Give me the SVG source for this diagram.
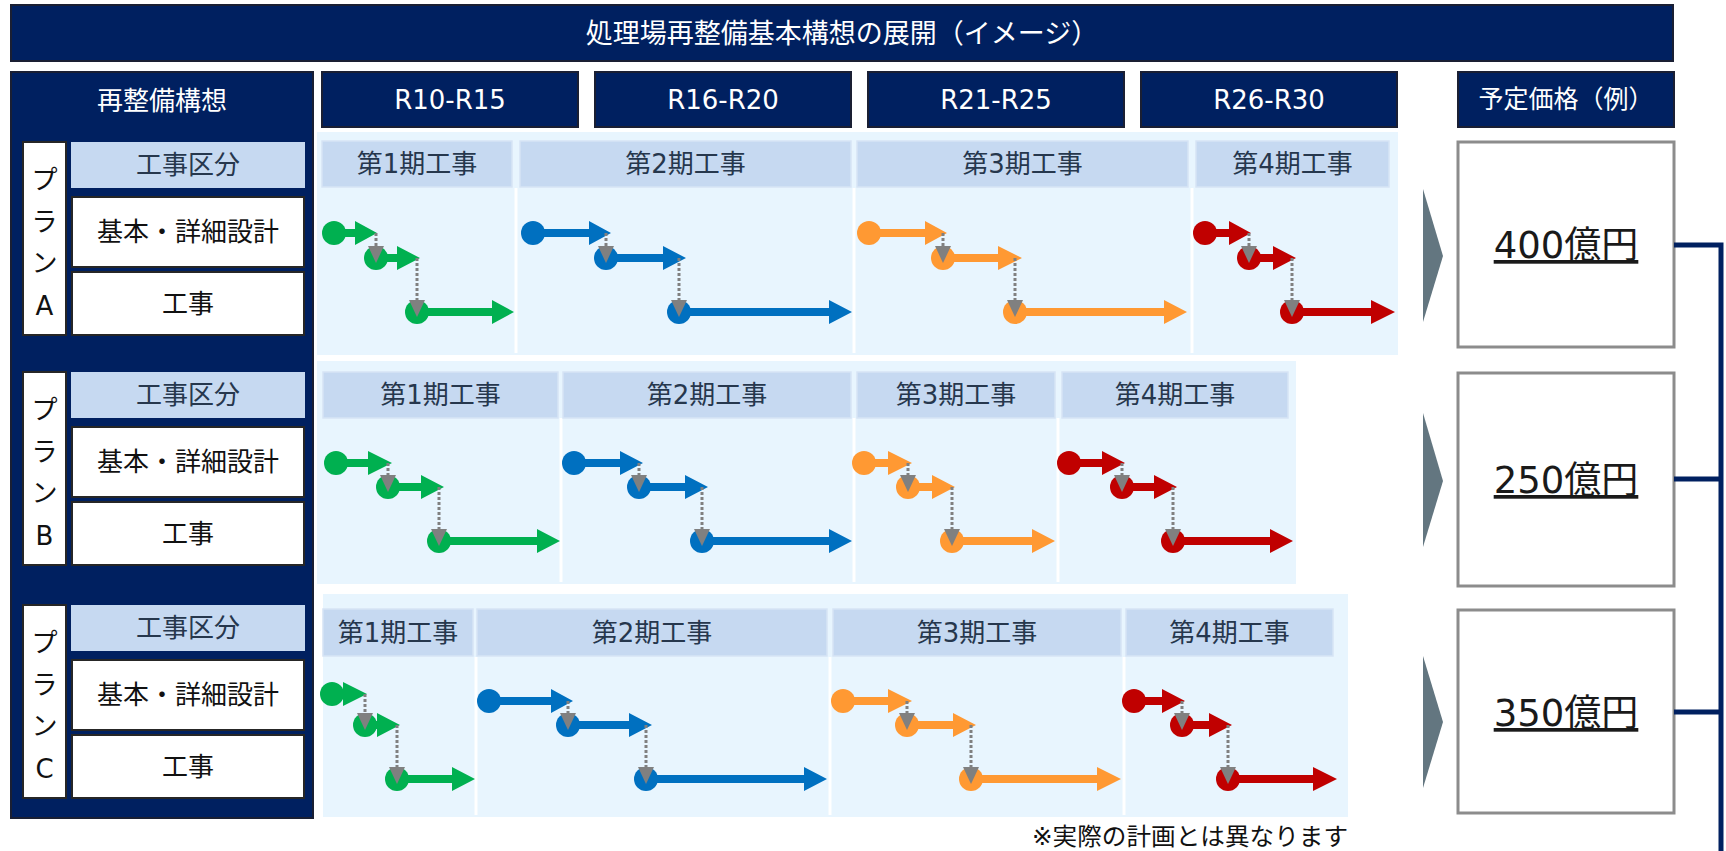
<svg xmlns="http://www.w3.org/2000/svg" width="1726" height="851" viewBox="0 0 1726 851">
<style>
.t{font-family:"DejaVu Sans","Noto Sans CJK JP",sans-serif}
.navy{fill:#002060;stroke:#1a1f33;stroke-width:2}
.wbox{fill:#fff;stroke:#262626;stroke-width:2}
.kbox{fill:#C6D9F1}
.lbl{fill:#C6D9F1;stroke:#D6E4F5;stroke-width:1.5}
.area{fill:#E8F5FE}
.div{stroke:#fff;stroke-width:3}
.price{fill:#fff;stroke:#8C8C8C;stroke-width:3}
.chev{fill:#637680}
.wt{fill:#fff;font-size:26px}
.dk{fill:#26374D;font-size:26px}
.bk{fill:#111;font-size:26px}
.g{fill:#00B050}.b{fill:#0070C0}.o{fill:#FF9933}.r{fill:#C00000}
.dot{stroke:#808080;stroke-width:3;stroke-dasharray:3 2;fill:none}
.tri{fill:#808080}
.br{stroke:#002060;stroke-width:5;fill:none}
.pt{font-size:37px;fill:#1a1a1a;text-decoration:underline}
</style>

<g id="title">
<rect class="navy" x="11" y="5" width="1662" height="56"/>
<text class="t wt" x="842" y="33" text-anchor="middle" dominant-baseline="central" style="font-size:27px">処理場再整備基本構想の展開（イメージ）</text>
</g>

<g id="left-panel">
<rect class="navy" x="11" y="72" width="302" height="746"/>
<text class="t wt" x="162" y="101" text-anchor="middle" dominant-baseline="central">再整備構想</text>
</g>

<g id="plan-a-label">
<rect class="wbox" x="23" y="142" width="43" height="193"/>
<text class="t bk" x="44.5" y="180" text-anchor="middle" dominant-baseline="central">プ</text>
<text class="t bk" x="44.5" y="222" text-anchor="middle" dominant-baseline="central">ラ</text>
<text class="t bk" x="44.5" y="263" text-anchor="middle" dominant-baseline="central">ン</text>
<text class="t bk" x="44.5" y="306" text-anchor="middle" dominant-baseline="central">A</text>
<rect class="kbox" x="71" y="142" width="234" height="46"/>
<text class="t dk" x="188" y="165" text-anchor="middle" dominant-baseline="central">工事区分</text>
<rect class="wbox" x="72" y="197" width="232" height="70"/>
<text class="t bk" x="188" y="232" text-anchor="middle" dominant-baseline="central">基本・詳細設計</text>
<rect class="wbox" x="72" y="272" width="232" height="63"/>
<text class="t bk" x="188" y="303.5" text-anchor="middle" dominant-baseline="central">工事</text>
</g>

<g id="plan-b-label">
<rect class="wbox" x="23" y="372" width="43" height="193"/>
<text class="t bk" x="44.5" y="410" text-anchor="middle" dominant-baseline="central">プ</text>
<text class="t bk" x="44.5" y="452" text-anchor="middle" dominant-baseline="central">ラ</text>
<text class="t bk" x="44.5" y="493" text-anchor="middle" dominant-baseline="central">ン</text>
<text class="t bk" x="44.5" y="536" text-anchor="middle" dominant-baseline="central">B</text>
<rect class="kbox" x="71" y="372" width="234" height="46"/>
<text class="t dk" x="188" y="395" text-anchor="middle" dominant-baseline="central">工事区分</text>
<rect class="wbox" x="72" y="427" width="232" height="70"/>
<text class="t bk" x="188" y="462" text-anchor="middle" dominant-baseline="central">基本・詳細設計</text>
<rect class="wbox" x="72" y="502" width="232" height="63"/>
<text class="t bk" x="188" y="533.5" text-anchor="middle" dominant-baseline="central">工事</text>
</g>

<g id="plan-c-label">
<rect class="wbox" x="23" y="605" width="43" height="193"/>
<text class="t bk" x="44.5" y="643" text-anchor="middle" dominant-baseline="central">プ</text>
<text class="t bk" x="44.5" y="685" text-anchor="middle" dominant-baseline="central">ラ</text>
<text class="t bk" x="44.5" y="726" text-anchor="middle" dominant-baseline="central">ン</text>
<text class="t bk" x="44.5" y="769" text-anchor="middle" dominant-baseline="central">C</text>
<rect class="kbox" x="71" y="605" width="234" height="46"/>
<text class="t dk" x="188" y="628" text-anchor="middle" dominant-baseline="central">工事区分</text>
<rect class="wbox" x="72" y="660" width="232" height="70"/>
<text class="t bk" x="188" y="695" text-anchor="middle" dominant-baseline="central">基本・詳細設計</text>
<rect class="wbox" x="72" y="735" width="232" height="63"/>
<text class="t bk" x="188" y="766.5" text-anchor="middle" dominant-baseline="central">工事</text>
</g>

<g id="period-headers">
<rect class="navy" x="322" y="72" width="256" height="55"/>
<text class="t wt" x="450" y="99.5" text-anchor="middle" dominant-baseline="central">R10-R15</text>
<rect class="navy" x="595" y="72" width="256" height="55"/>
<text class="t wt" x="723" y="99.5" text-anchor="middle" dominant-baseline="central">R16-R20</text>
<rect class="navy" x="868" y="72" width="256" height="55"/>
<text class="t wt" x="996" y="99.5" text-anchor="middle" dominant-baseline="central">R21-R25</text>
<rect class="navy" x="1141" y="72" width="256" height="55"/>
<text class="t wt" x="1269" y="99.5" text-anchor="middle" dominant-baseline="central">R26-R30</text>
<rect class="navy" x="1458" y="72" width="216" height="55"/>
<text class="t wt" x="1566" y="99.5" text-anchor="middle" dominant-baseline="central" style="font-size:25px">予定価格（例）</text>
</g>

<g id="plan-a-chart">
<rect class="area" x="317" y="132" width="1081" height="223"/>
<line class="div" x1="516" y1="188" x2="516" y2="353"/>
<line class="div" x1="854" y1="188" x2="854" y2="353"/>
<line class="div" x1="1192" y1="188" x2="1192" y2="353"/>
<rect class="lbl" x="322" y="141" width="190" height="46"/>
<rect class="lbl" x="520" y="141" width="331" height="46"/>
<rect class="lbl" x="857" y="141" width="331" height="46"/>
<rect class="lbl" x="1196" y="141" width="193" height="46"/>
<text class="t dk" x="417" y="164" text-anchor="middle" dominant-baseline="central">第1期工事</text>
<text class="t dk" x="685.5" y="164" text-anchor="middle" dominant-baseline="central">第2期工事</text>
<text class="t dk" x="1022.5" y="164" text-anchor="middle" dominant-baseline="central">第3期工事</text>
<text class="t dk" x="1292.5" y="164" text-anchor="middle" dominant-baseline="central">第4期工事</text>
</g>

<g id="plan-b-chart">
<rect class="area" x="317" y="361" width="979" height="223"/>
<line class="div" x1="561" y1="418" x2="561" y2="582"/>
<line class="div" x1="854" y1="418" x2="854" y2="582"/>
<line class="div" x1="1058" y1="418" x2="1058" y2="582"/>
<rect class="lbl" x="323" y="372" width="235" height="46"/>
<rect class="lbl" x="563" y="372" width="288" height="46"/>
<rect class="lbl" x="857" y="372" width="198" height="46"/>
<rect class="lbl" x="1062" y="372" width="226" height="46"/>
<text class="t dk" x="440.5" y="395" text-anchor="middle" dominant-baseline="central">第1期工事</text>
<text class="t dk" x="707" y="395" text-anchor="middle" dominant-baseline="central">第2期工事</text>
<text class="t dk" x="956" y="395" text-anchor="middle" dominant-baseline="central">第3期工事</text>
<text class="t dk" x="1175" y="395" text-anchor="middle" dominant-baseline="central">第4期工事</text>
</g>

<g id="plan-c-chart">
<rect class="area" x="323" y="594" width="1025" height="223"/>
<line class="div" x1="476" y1="657" x2="476" y2="815"/>
<line class="div" x1="830" y1="657" x2="830" y2="815"/>
<line class="div" x1="1124" y1="657" x2="1124" y2="815"/>
<rect class="lbl" x="323" y="609" width="150" height="47"/>
<rect class="lbl" x="477" y="609" width="350" height="47"/>
<rect class="lbl" x="833" y="609" width="288" height="47"/>
<rect class="lbl" x="1126" y="609" width="207" height="47"/>
<text class="t dk" x="398" y="632.5" text-anchor="middle" dominant-baseline="central">第1期工事</text>
<text class="t dk" x="652" y="632.5" text-anchor="middle" dominant-baseline="central">第2期工事</text>
<text class="t dk" x="977" y="632.5" text-anchor="middle" dominant-baseline="central">第3期工事</text>
<text class="t dk" x="1229.5" y="632.5" text-anchor="middle" dominant-baseline="central">第4期工事</text>
</g>

<g id="price-a">
<polygon class="chev" points="1423,189 1443,256 1423,322"/>
<rect class="price" x="1458" y="142" width="216" height="205"/>
<text class="t pt" x="1566" y="258" text-anchor="middle">400億円</text>
</g>
<g id="price-b">
<polygon class="chev" points="1423,413 1443,481 1423,547"/>
<rect class="price" x="1458" y="373" width="216" height="213"/>
<text class="t pt" x="1566" y="493" text-anchor="middle">250億円</text>
</g>
<g id="price-c">
<polygon class="chev" points="1423,656 1443,722 1423,788"/>
<rect class="price" x="1458" y="610" width="216" height="203"/>
<text class="t pt" x="1566" y="726" text-anchor="middle">350億円</text>
</g>

<g id="note">
<text class="t" x="1032" y="845" textLength="316" lengthAdjust="spacingAndGlyphs" style="font-size:24px;fill:#111">※実際の計画とは異なります</text>
</g>

<g id="connectors">
<!-- Plan A -->
<g class="g">
<circle cx="334" cy="233" r="12"/><path d="M334 229H355V221L377 233L355 245V237H334Z"/>
<circle cx="376" cy="258" r="12"/><path d="M376 254H397V246L420 258L397 270V262H376Z"/>
<circle cx="417" cy="312" r="12"/><path d="M417 308H492V300L514 312L492 324V316H417Z"/>
</g>
<g class="b">
<circle cx="533" cy="233" r="12"/><path d="M533 229H589V221L611 233L589 245V237H533Z"/>
<circle cx="606" cy="258" r="12"/><path d="M606 254H663V246L686 258L663 270V262H606Z"/>
<circle cx="679" cy="312" r="12"/><path d="M679 308H829V300L852 312L829 324V316H679Z"/>
</g>
<g class="o">
<circle cx="869" cy="233" r="12"/><path d="M869 229H925V221L947 233L925 245V237H869Z"/>
<circle cx="943" cy="258" r="12"/><path d="M943 254H998V246L1022 258L998 270V262H943Z"/>
<circle cx="1015" cy="312" r="12"/><path d="M1015 308H1164V300L1187 312L1164 324V316H1015Z"/>
</g>
<g class="r">
<circle cx="1205" cy="233" r="12"/><path d="M1205 229H1229V221L1251 233L1229 245V237H1205Z"/>
<circle cx="1249" cy="258" r="12"/><path d="M1249 254H1273V246L1296 258L1273 270V262H1249Z"/>
<circle cx="1292" cy="312" r="12"/><path d="M1292 308H1371V300L1395 312L1371 324V316H1292Z"/>
</g>
<path class="dot" d="M376 233V246M417 258V300M606 233V246M679 258V300M943 233V246M1015 258V300M1249 233V246M1292 258V300"/>
<g class="tri">
<polygon points="368,246 384,246 376,263"/><polygon points="409,300 425,300 417,317"/>
<polygon points="598,246 614,246 606,263"/><polygon points="671,300 687,300 679,317"/>
<polygon points="935,246 951,246 943,263"/><polygon points="1007,300 1023,300 1015,317"/>
<polygon points="1241,246 1257,246 1249,263"/><polygon points="1284,300 1300,300 1292,317"/>
</g>

<!-- Plan B -->
<g class="g">
<circle cx="336" cy="463" r="12"/><path d="M336 459H368V451L392 463L368 475V467H336Z"/>
<circle cx="388" cy="487" r="12"/><path d="M388 483H421V475L444 487L421 499V491H388Z"/>
<circle cx="439" cy="541" r="12"/><path d="M439 537H537V529L560 541L537 553V545H439Z"/>
</g>
<g class="b">
<circle cx="574" cy="463" r="12"/><path d="M574 459H620V451L643 463L620 475V467H574Z"/>
<circle cx="639" cy="487" r="12"/><path d="M639 483H685V475L708 487L685 499V491H639Z"/>
<circle cx="702" cy="541" r="12"/><path d="M702 537H829V529L852 541L829 553V545H702Z"/>
</g>
<g class="o">
<circle cx="864" cy="463" r="12"/><path d="M864 459H888V451L912 463L888 475V467H864Z"/>
<circle cx="908" cy="487" r="12"/><path d="M908 483H932V475L955 487L932 499V491H908Z"/>
<circle cx="952" cy="541" r="12"/><path d="M952 537H1032V529L1055 541L1032 553V545H952Z"/>
</g>
<g class="r">
<circle cx="1069" cy="463" r="12"/><path d="M1069 459H1102V451L1125 463L1102 475V467H1069Z"/>
<circle cx="1122" cy="487" r="12"/><path d="M1122 483H1154V475L1177 487L1154 499V491H1122Z"/>
<circle cx="1173" cy="541" r="12"/><path d="M1173 537H1270V529L1293 541L1270 553V545H1173Z"/>
</g>
<path class="dot" d="M388 463V475M439 487V529M639 463V475M702 487V529M908 463V475M952 487V529M1122 463V475M1173 487V529"/>
<g class="tri">
<polygon points="380,475 396,475 388,492"/><polygon points="431,529 447,529 439,546"/>
<polygon points="631,475 647,475 639,492"/><polygon points="694,529 710,529 702,546"/>
<polygon points="900,475 916,475 908,492"/><polygon points="944,529 960,529 952,546"/>
<polygon points="1114,475 1130,475 1122,492"/><polygon points="1165,529 1181,529 1173,546"/>
</g>

<!-- Plan C -->
<g class="g">
<circle cx="332" cy="694" r="12"/><path d="M332 690H343V682L367 694L343 706V698H332Z"/>
<circle cx="365" cy="725" r="12"/><path d="M365 721H377V713L400 725L377 737V729H365Z"/>
<circle cx="397" cy="779" r="12"/><path d="M397 775H452V767L475 779L452 791V783H397Z"/>
</g>
<g class="b">
<circle cx="489" cy="701" r="12"/><path d="M489 697H551V689L573 701L551 713V705H489Z"/>
<circle cx="568" cy="725" r="12"/><path d="M568 721H629V713L652 725L629 737V729H568Z"/>
<circle cx="646" cy="779" r="12"/><path d="M646 775H804V767L827 779L804 791V783H646Z"/>
</g>
<g class="o">
<circle cx="843" cy="701" r="12"/><path d="M843 697H888V689L912 701L888 713V705H843Z"/>
<circle cx="907" cy="725" r="12"/><path d="M907 721H953V713L976 725L953 737V729H907Z"/>
<circle cx="971" cy="779" r="12"/><path d="M971 775H1097V767L1121 779L1097 791V783H971Z"/>
</g>
<g class="r">
<circle cx="1134" cy="701" r="12"/><path d="M1134 697H1162V689L1185 701L1162 713V705H1134Z"/>
<circle cx="1182" cy="725" r="12"/><path d="M1182 721H1209V713L1232 725L1209 737V729H1182Z"/>
<circle cx="1228" cy="779" r="12"/><path d="M1228 775H1313V767L1337 779L1313 791V783H1228Z"/>
</g>
<path class="dot" d="M365 694V713M397 725V767M568 701V713M646 725V767M907 701V713M971 725V767M1182 701V713M1228 725V767"/>
<g class="tri">
<polygon points="357,713 373,713 365,730"/><polygon points="389,767 405,767 397,784"/>
<polygon points="560,713 576,713 568,730"/><polygon points="638,767 654,767 646,784"/>
<polygon points="899,713 915,713 907,730"/><polygon points="963,767 979,767 971,784"/>
<polygon points="1174,713 1190,713 1182,730"/><polygon points="1220,767 1236,767 1228,784"/>
</g>

<!-- bracket -->
<path class="br" d="M1674 245H1721V851M1674 479H1721M1674 712H1721"/>
</g>
</svg>
